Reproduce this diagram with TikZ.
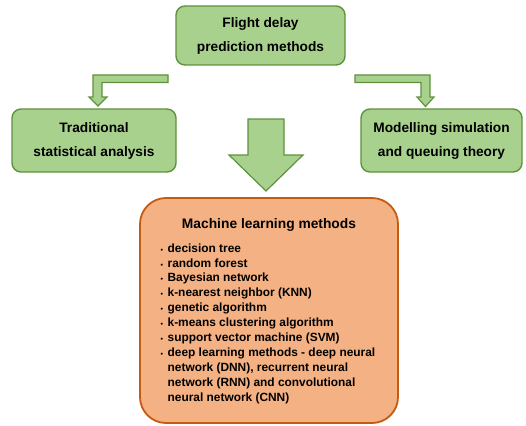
\documentclass[tikz,border=0pt]{standalone}
\usepackage{fontspec}
\setmainfont{Liberation Sans}
\usetikzlibrary{positioning,calc}
\definecolor{boxgreen}{RGB}{169,209,142}
\definecolor{edgegreen}{RGB}{96,145,62}
\definecolor{boxorange}{RGB}{244,177,131}
\definecolor{edgeorange}{RGB}{197,90,17}
\tikzset{
  greenbox/.style={draw=edgegreen,fill=boxgreen,rounded corners=9pt,
    line width=1.4pt,align=center,inner sep=2pt,
    font=\bfseries\fontsize{13.7}{24}\selectfont},
  mlbox/.style={draw=edgeorange,fill=boxorange,rounded corners=26pt,
    line width=1.8pt,minimum width=258pt,minimum height=225pt},
  blockarrow/.style={draw=edgegreen,fill=boxgreen,line width=1.2pt,
    line join=miter},
  mltitle/.style={font=\bfseries\fontsize{13.8}{15}\selectfont,inner sep=0pt},
  mllist/.style={font=\bfseries\fontsize{11.9}{14.9}\selectfont,inner sep=0pt,
    anchor=north west},
}
\newcommand{\mlitem}{{\fontsize{7}{7}\selectfont\textbullet}}

\begin{document}
\begin{tikzpicture}[x=1pt,y=-1pt]
  \useasboundingbox (0,0) rectangle (526,425);
  \node[greenbox,minimum width=169pt,minimum height=59pt] (root) at (260.5,35.5)
    {Flight delay\\prediction methods};
  \node[greenbox,minimum width=164pt,minimum height=63pt] (stat) at (94,140.5)
    {Traditional\\statistical analysis};
  \node[greenbox,minimum width=161pt,minimum height=63pt] (sim) at (441.5,140.5)
    {Modelling simulation\\and queuing theory};
  \node[mlbox] (ml) at (269,310.5) {};
  \node[mltitle] (mlhead) at ($(ml.north)+(0,28)$) {Machine learning methods};
  \node[mllist] (mlitems) at (160.5,241.5) {%
    \renewcommand{\arraystretch}{1}%
    \begin{tabular}{@{}l@{\hspace{4.5pt}}l@{}}
      \mlitem & decision tree\\
      \mlitem & random forest\\
      \mlitem & Bayesian network\\
      \mlitem & k-nearest neighbor (KNN)\\
      \mlitem & genetic algorithm\\
      \mlitem & k-means clustering algorithm\\
      \mlitem & support vector machine (SVM)\\
      \mlitem & deep learning methods - deep neural\\
              & network (DNN), recurrent neural\\
              & network (RNN) and convolutional\\
              & neural network (CNN)
    \end{tabular}};
  % block arrows
  \draw[blockarrow] (168,75) -- (93,75) -- (93,97) -- (89,97) -- (98,106)
    -- (107,97) -- (102,97) -- (102,82.5) -- (168,82.5) -- cycle;
  \draw[blockarrow] (355,75) -- (430,75) -- (430,97) -- (434,97) -- (425.5,106.5)
    -- (417,97) -- (421,97) -- (421,82.5) -- (355,82.5) -- cycle;
  \draw[blockarrow] (248,119) -- (284,119) -- (284,155) -- (303,155) -- (266,191)
    -- (229,155) -- (248,155) -- cycle;
\end{tikzpicture}
\end{document}
